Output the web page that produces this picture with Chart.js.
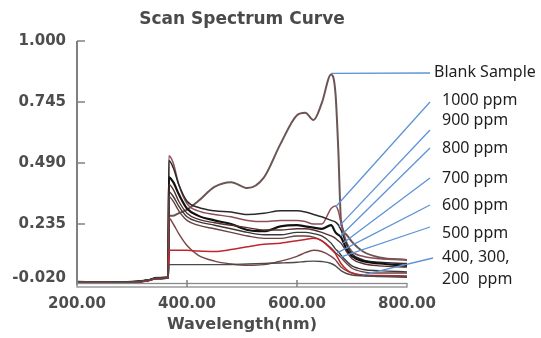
<!DOCTYPE html>
<html>
<head>
<meta charset="utf-8">
<script src="https://cdn.jsdelivr.net/npm/chart.js@4.4.0/dist/chart.umd.min.js"></script>
<style>
html, body { margin: 0; padding: 0; background: #fff; }
#wrap { width: 541px; height: 338px; position: relative; }
</style>
</head>
<body>
<div id="wrap"><canvas id="specChart"></canvas></div>
<script>
// wavelength grid (nm) shared by all scans
var wavelengths = [200, 250, 300, 330, 345, 366, 367, 375, 385, 400, 420, 450, 480, 510, 540, 570, 600, 615, 630, 645, 662, 670, 675, 680, 690, 700, 720, 750, 800];

var blankSample = [-0.008, -0.010, -0.008, 0.000, 0.010, 0.012, 0.27, 0.27, 0.28, 0.295, 0.33, 0.39, 0.41, 0.385, 0.43, 0.57, 0.69, 0.70, 0.67, 0.74, 0.86, 0.78, 0.55, 0.25, 0.19, 0.16, 0.12, 0.095, 0.085];
var ppm1000 = [-0.006, -0.008, -0.006, 0.002, 0.006, 0.010, 0.52, 0.49, 0.40, 0.32, 0.29, 0.275, 0.265, 0.25, 0.245, 0.25, 0.25, 0.245, 0.235, 0.235, 0.30, 0.31, 0.29, 0.24, 0.16, 0.12, 0.10, 0.09, 0.085];
var ppm900 = [-0.009, -0.007, -0.009, 0.001, 0.008, 0.011, 0.50, 0.47, 0.40, 0.33, 0.305, 0.29, 0.285, 0.275, 0.28, 0.29, 0.29, 0.285, 0.275, 0.265, 0.25, 0.243, 0.232, 0.21, 0.15, 0.11, 0.085, 0.075, 0.07];
var ppm800 = [-0.007, -0.009, -0.007, 0.000, 0.009, 0.012, 0.43, 0.41, 0.36, 0.30, 0.27, 0.25, 0.235, 0.21, 0.205, 0.225, 0.23, 0.225, 0.22, 0.215, 0.23, 0.20, 0.19, 0.18, 0.13, 0.10, 0.08, 0.07, 0.06];
var ppm700 = [-0.010, -0.008, -0.010, -0.002, 0.007, 0.010, 0.40, 0.38, 0.33, 0.28, 0.255, 0.24, 0.23, 0.22, 0.21, 0.21, 0.215, 0.215, 0.21, 0.20, 0.185, 0.175, 0.165, 0.155, 0.12, 0.09, 0.07, 0.06, 0.055];
var ppm600 = [-0.008, -0.010, -0.007, 0.001, 0.008, 0.011, 0.37, 0.35, 0.31, 0.265, 0.245, 0.23, 0.215, 0.20, 0.19, 0.19, 0.20, 0.20, 0.195, 0.185, 0.155, 0.13, 0.12, 0.105, 0.08, 0.06, 0.045, 0.04, 0.035];
var ppm500 = [-0.009, -0.008, -0.009, 0.000, 0.006, 0.010, 0.35, 0.33, 0.29, 0.25, 0.23, 0.215, 0.20, 0.185, 0.175, 0.175, 0.185, 0.185, 0.18, 0.165, 0.135, 0.115, 0.105, 0.095, 0.07, 0.05, 0.035, 0.03, 0.03];
var ppm400 = [-0.007, -0.009, -0.008, -0.001, 0.007, 0.010, 0.26, 0.235, 0.195, 0.145, 0.105, 0.08, 0.068, 0.062, 0.065, 0.08, 0.10, 0.115, 0.125, 0.12, 0.10, 0.085, 0.07, 0.055, 0.04, 0.03, 0.022, 0.02, 0.018];
var ppm300 = [-0.010, -0.009, -0.010, -0.001, 0.006, 0.009, 0.125, 0.125, 0.125, 0.125, 0.122, 0.12, 0.128, 0.14, 0.15, 0.155, 0.165, 0.17, 0.175, 0.165, 0.13, 0.11, 0.09, 0.07, 0.045, 0.03, 0.02, 0.018, 0.015];
var ppm200 = [-0.008, -0.008, -0.009, 0.000, 0.008, 0.010, 0.065, 0.065, 0.065, 0.065, 0.065, 0.065, 0.066, 0.068, 0.07, 0.072, 0.075, 0.078, 0.08, 0.078, 0.07, 0.06, 0.05, 0.04, 0.028, 0.022, 0.018, 0.015, 0.012];

var seriesNames = ['Blank Sample', '1000 ppm', '900 ppm', '800 ppm', '700 ppm', '600 ppm', '500 ppm', '400 ppm', '300 ppm', '200 ppm'];
var seriesValues = [blankSample, ppm1000, ppm900, ppm800, ppm700, ppm600, ppm500, ppm400, ppm300, ppm200];

var yTicks = [-0.020, 0.235, 0.490, 0.745, 1.000];
var xTicks = [200, 400, 600, 800];

// callout labels: text and the (wavelength, absorbance) each leader points at
var calloutText = ['Blank Sample', '1000 ppm', '900 ppm', '800 ppm', '700 ppm', '600 ppm', '500 ppm', '400, 300,', '200  ppm'];
var calloutWl = [662, 670, 675, 679, 684, 673, 679, 720, null];
var calloutAbs = [0.865, 0.306, 0.222, 0.185, 0.156, 0.114, 0.097, 0.022, null];

var lineColors = ['#6b5555', '#8c4f58', '#2a2a2a', '#111111', '#5a2e2e', '#3a3a3a', '#6a4242', '#7b4545', '#c0262b', '#4a4a4a'];
var lineWidths = [2, 1.5, 1.5, 2.2, 1.4, 1.4, 1.4, 1.4, 1.5, 1.4];

function toPoints(vals) {
	var pts = [];
	for (var i = 0; i < wavelengths.length; i++) {
		pts.push({ x: wavelengths[i], y: vals[i] });
	}
	return pts;
}

var datasets = [];
for (var i = seriesValues.length - 1; i >= 0; i--) {
	datasets.push({
		label: seriesNames[i],
		data: toPoints(seriesValues[i]),
		borderColor: lineColors[i],
		borderWidth: lineWidths[i],
		pointRadius: 0,
		fill: false,
		cubicInterpolationMode: 'monotone'
	});
}

// axes, labels and leader lines
var frame = {
	id: 'frame',
	afterDatasetsDraw: function(chart) {
		var ctx = chart.ctx;
		var a = chart.chartArea;
		var xs = chart.scales.x;
		var ys = chart.scales.y;
		var i;
		ctx.save();

		// title
		ctx.fillStyle = '#4a4a4a';
		ctx.font = 'bold 17px "DejaVu Sans"';
		ctx.textAlign = 'center';
		ctx.textBaseline = 'middle';
		ctx.fillText('Scan Spectrum Curve', (a.left + a.right) / 2, 20);

		// left axis
		ctx.strokeStyle = '#808080';
		ctx.lineWidth = 2;
		ctx.beginPath();
		ctx.moveTo(a.left, a.top);
		ctx.lineTo(a.left, a.bottom);
		ctx.stroke();

		// bottom axis (double line)
		ctx.lineWidth = 1.3;
		ctx.strokeStyle = '#8a8a8a';
		ctx.strokeRect(a.left, a.bottom - 1.5, a.right - a.left, 3.5);

		// y ticks and labels
		ctx.font = 'bold 15px "DejaVu Sans"';
		ctx.fillStyle = '#4d4d4d';
		ctx.textAlign = 'right';
		ctx.lineWidth = 1.5;
		ctx.strokeStyle = '#808080';
		for (i = 0; i < yTicks.length; i++) {
			var py = ys.getPixelForValue(yTicks[i]);
			if (i > 0) {
				ctx.beginPath();
				ctx.moveTo(a.left, py);
				ctx.lineTo(a.left + 8, py);
				ctx.stroke();
			}
			var ly = i === 0 ? py - 7 : py;
			ctx.fillText(yTicks[i].toFixed(3), a.left - 11, ly);
		}

		// x ticks and labels
		ctx.textAlign = 'center';
		for (i = 0; i < xTicks.length; i++) {
			var px = xs.getPixelForValue(xTicks[i]);
			if (i > 0 && i < xTicks.length - 1) {
				ctx.beginPath();
				ctx.moveTo(px, a.bottom - 5);
				ctx.lineTo(px, a.bottom + 2);
				ctx.stroke();
			}
			ctx.fillText(xTicks[i].toFixed(2), px, a.bottom + 19);
		}

		// x title
		ctx.font = 'bold 16px "DejaVu Sans"';
		ctx.fillText('Wavelength(nm)', (a.left + a.right) / 2, a.bottom + 40);

		// callouts
		var textY = [72, 100, 120, 148, 178, 205, 233, 257, 279];
		var startY = [73, 102, 130, 148, 178, 205, 227, 258, null];
		ctx.strokeStyle = '#5d93d6';
		ctx.lineWidth = 1.3;
		for (i = 0; i < calloutText.length; i++) {
			if (calloutWl[i] !== null) {
				var sx = i === 0 ? a.right + 23 : a.right + 23 + (i === 7 ? 3 : 0);
				ctx.beginPath();
				ctx.moveTo(sx, startY[i]);
				ctx.lineTo(xs.getPixelForValue(calloutWl[i]), ys.getPixelForValue(calloutAbs[i]));
				ctx.stroke();
			}
		}
		ctx.fillStyle = '#1e1e1e';
		ctx.textAlign = 'left';
		ctx.font = '16px "Noto Sans"';
		for (i = 0; i < calloutText.length; i++) {
			var tx = i === 0 ? a.right + 27 : a.right + 35;
			ctx.fillText(calloutText[i], tx, textY[i]);
		}
		ctx.restore();
	}
};

new Chart(document.getElementById('specChart').getContext('2d'), {
	type: 'line',
	data: { datasets: datasets },
	options: {
		responsive: true,
		maintainAspectRatio: false,
		animation: false,
		layout: { padding: { left: 77, right: 134, top: 41, bottom: 53 } },
		scales: {
			x: { type: 'linear', min: 200, max: 800, display: false },
			y: { min: -0.02, max: 1.0, display: false }
		},
		plugins: {
			legend: { display: false },
			tooltip: { enabled: false }
		}
	},
	plugins: [frame]
});
</script>
</body>
</html>
